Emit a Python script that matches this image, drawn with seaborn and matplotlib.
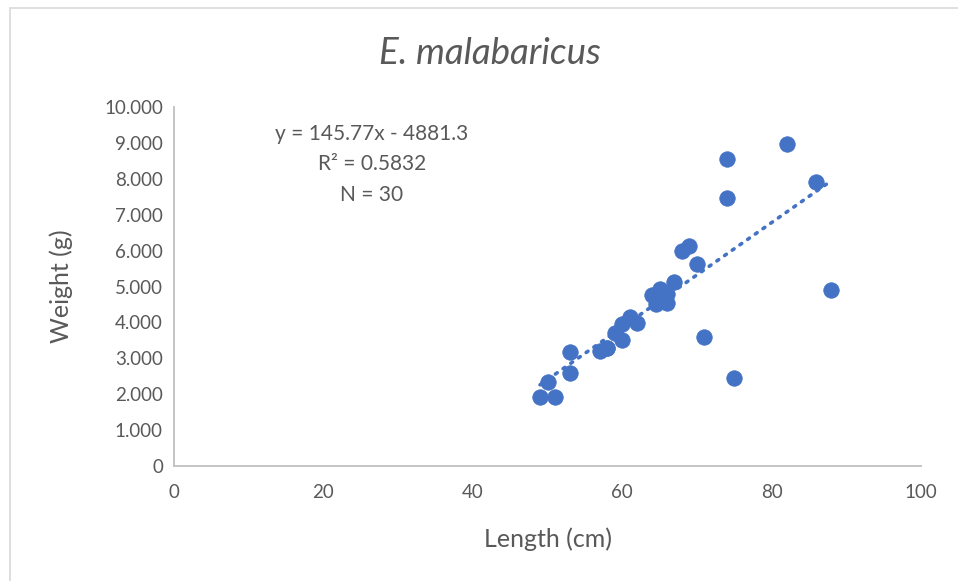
import matplotlib
matplotlib.use("Agg")
import matplotlib.pyplot as plt
import matplotlib.ticker as mticker
import seaborn as sns
import numpy as np
import pandas as pd

length_cm = [49, 51, 50, 53, 53, 57, 58, 59, 60, 60, 61, 62, 64, 64.5, 65, 65,
             66, 66, 67, 68, 69, 70, 71, 74, 74, 75, 82, 86, 88, 58]
weight_g = [1930, 1930, 2350, 2600, 3170, 3200, 3300, 3710, 3510, 3950, 4160, 3980,
            4760, 4510, 4920, 4700, 4550, 4800, 5120, 6000, 6130, 5620, 3590, 8550, 7460,
            2440, 8960, 7900, 4900, 3280]
slope = 145.77
intercept = -4881.3
eq_lines = ["y = 145.77x - 4881.3", "R² = 0.5832", "N = 30"]
title = "E. malabaricus"
x_ticks = [0, 20, 40, 60, 80, 100]
y_ticks = [0, 1000, 2000, 3000, 4000, 5000, 6000, 7000, 8000, 9000, 10000]

df = pd.DataFrame({"Length": length_cm, "Weight": weight_g})

sns.set_style("white")
plt.rcParams['font.family'] = ['Lato', 'DejaVu Sans']

fig = plt.figure(figsize=(9.58, 5.81), dpi=100)
ax = fig.add_axes([174/958, 1 - 466/581, (921-174)/958, (466-107)/581])

blue = "#4472C4"
gray_txt = "#595959"
axis_col = "#BFBFBF"

sns.scatterplot(data=df, x="Length", y="Weight", ax=ax, s=125, color=blue,
                edgecolor=blue, linewidth=0.5, zorder=3)

xl = np.array([min(length_cm), max(length_cm)])
ax.plot(xl, slope * xl + intercept, color=blue, lw=2.6,
        linestyle=(0, (0.6, 2.0)), dash_capstyle='round', zorder=2)

ax.set_xlim(0, 100)
ax.set_ylim(0, 10000)
ax.set_xticks(x_ticks)
ax.set_yticks(y_ticks)
ax.yaxis.set_major_formatter(mticker.FuncFormatter(
    lambda v, p: "0" if v == 0 else f"{int(v/1000)}.000"))

for s in ["top", "right"]:
    ax.spines[s].set_visible(False)
for s in ["left", "bottom"]:
    ax.spines[s].set_color(axis_col)
    ax.spines[s].set_linewidth(1.3)
ax.tick_params(axis="both", which="major", direction="out", length=6, width=1.3,
               color=axis_col, labelcolor=gray_txt, labelsize=13.5, pad=2)
ax.tick_params(axis="x", pad=7)

ax.set_xlabel("Length (cm)", fontsize=18, color=gray_txt, labelpad=19)
ax.set_ylabel("Weight (g)", fontsize=18, color=gray_txt, labelpad=22)

fig.text(490/958, 1 - 53/581, title, ha="center", va="center", fontsize=26.5,
         style="italic", color=gray_txt)

fig.text(372/958, 1 - 124/581, "\n".join(eq_lines), ha="center", va="top",
         fontsize=15, color=gray_txt, linespacing=1.65)

# outer chart border
fig.patches.append(plt.Rectangle((10/958, -0.01), 1.0, 1 - 8/581 + 0.01, transform=fig.transFigure,
                                 fill=False, edgecolor="#D9D9D9", lw=1.2))

fig.savefig("out.png", dpi=100)
